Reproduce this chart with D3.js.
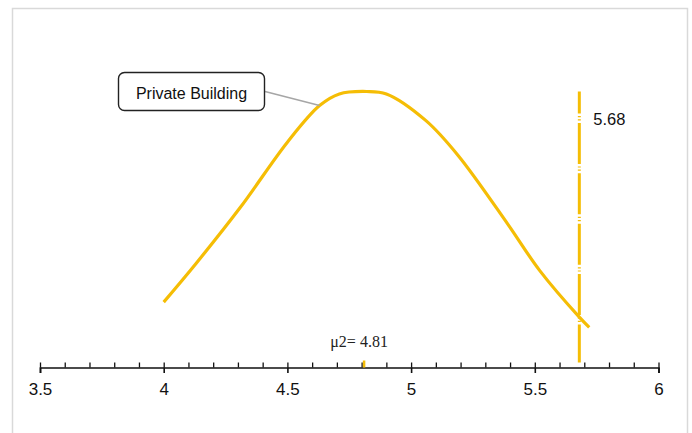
<!DOCTYPE html>
<html>
<head>
<meta charset="utf-8">
<script src="https://cdn.jsdelivr.net/npm/d3@7/dist/d3.min.js"></script>
<style>
  html, body { margin: 0; padding: 0; background: #fff; }
  svg { display: block; }
</style>
</head>
<body>
<svg id="chart" width="692" height="433"></svg>
<script>
// ---- data ----
const curveX = [4.00, 4.13, 4.31, 4.50, 4.63, 4.71, 4.82, 4.90, 5.06, 5.19, 5.39, 5.52, 5.68, 5.72];
const curveY = [0.218, 0.346, 0.534, 0.751, 0.873, 0.912, 0.920, 0.912, 0.823, 0.707, 0.479, 0.323, 0.168, 0.134];
const majorTicks = [3.5, 4, 4.5, 5, 5.5, 6];
const minorTicks = [3.6, 3.7, 3.8, 3.9, 4.1, 4.2, 4.3, 4.4, 4.6, 4.7, 4.8, 4.9, 5.1, 5.2, 5.3, 5.4, 5.6, 5.7, 5.8, 5.9];
const seriesName = "Private Building";
const meanValue = 4.81;
const meanLabel = "μ2= 4.81";
const refValue = 5.68;
const refLabel = "5.68";
const refExtent = [0.017, 0.92];
const calloutAnchorX = 4.63;

// ---- setup ----
const svg = d3.select("#chart");
const yellow = "#f5bd05";

const x = d3.scaleLinear().domain([3.5, 6]).range([40, 658.5]);
const y = d3.scaleLinear().domain([0, 1]).range([367.5, 67.5]);

// outer frame
svg.append("rect")
  .attr("x", 12.5).attr("y", 8.5)
  .attr("width", 675).attr("height", 440)
  .attr("fill", "none").attr("stroke", "#d9d9d9").attr("stroke-width", 1.5);

// curve
const pts = curveX.map((v, i) => [v, curveY[i]]);
const line = d3.line().x(d => x(d[0])).y(d => y(d[1])).curve(d3.curveCatmullRom.alpha(0.5));
svg.append("path")
  .datum(pts)
  .attr("d", line)
  .attr("fill", "none")
  .attr("stroke", yellow)
  .attr("stroke-width", 3.2)
  .attr("stroke-linecap", "butt")
  .attr("stroke-linejoin", "round");

// reference vertical line
svg.append("line")
  .attr("x1", x(refValue)).attr("x2", x(refValue))
  .attr("y1", y(refExtent[1])).attr("y2", y(refExtent[0]))
  .attr("stroke", yellow)
  .attr("stroke-width", 3)
  .attr("stroke-dasharray", "41,2.5,1.2,2,1.2,2.5")
  .attr("stroke-dashoffset", 19);

svg.append("text")
  .attr("x", x(refValue) + 14)
  .attr("y", 124.5)
  .attr("font-family", "Liberation Sans, Arial, sans-serif")
  .attr("font-size", 16.5)
  .attr("fill", "#111")
  .text(refLabel);

// axis
const axisY = y(0);
const gMajor = svg.append("g")
  .attr("transform", `translate(0,${axisY})`)
  .call(d3.axisBottom(x).tickValues(majorTicks).tickSize(5.5).tickPadding(10).tickFormat(d3.format("")));
gMajor.select(".domain").attr("stroke", "#111").attr("stroke-width", 1.6);
gMajor.selectAll(".tick line").attr("stroke", "#111").attr("stroke-width", 1.6);
gMajor.selectAll(".tick text")
  .attr("font-family", "Liberation Sans, Arial, sans-serif")
  .attr("font-size", 17)
  .attr("fill", "#111");

const gUp = svg.append("g")
  .attr("transform", `translate(0,${axisY})`)
  .call(d3.axisBottom(x).tickValues(majorTicks.concat(minorTicks)).tickSize(-5).tickFormat(""));
gUp.select(".domain").remove();
gUp.selectAll(".tick line").attr("stroke", "#111").attr("stroke-width", 1.3);

// mean marker
svg.append("line")
  .attr("x1", x(meanValue)).attr("x2", x(meanValue))
  .attr("y1", axisY - 7).attr("y2", axisY)
  .attr("stroke", yellow).attr("stroke-width", 2.5);

svg.append("text")
  .attr("x", x(meanValue) - 5)
  .attr("y", 347)
  .attr("text-anchor", "middle")
  .attr("font-family", "Liberation Serif, Times New Roman, serif")
  .attr("font-size", 16)
  .attr("fill", "#222")
  .text(meanLabel);

// callout
const anchorIdx = curveX.indexOf(calloutAnchorX);
const ax = x(curveX[anchorIdx]), ay = y(curveY[anchorIdx]);
svg.append("line")
  .attr("x1", 265).attr("y1", 91.5)
  .attr("x2", ax).attr("y2", ay)
  .attr("stroke", "#a6a6a6").attr("stroke-width", 1.5);

svg.append("rect")
  .attr("x", 118.5).attr("y", 72.5)
  .attr("width", 146).attr("height", 38)
  .attr("rx", 6).attr("ry", 6)
  .attr("fill", "#fff").attr("stroke", "#222").attr("stroke-width", 1.4);

svg.append("text")
  .attr("x", 191.5).attr("y", 98.5)
  .attr("text-anchor", "middle")
  .attr("font-family", "Liberation Sans, Arial, sans-serif")
  .attr("font-size", 16)
  .attr("fill", "#111")
  .text(seriesName);
</script>
</body>
</html>
